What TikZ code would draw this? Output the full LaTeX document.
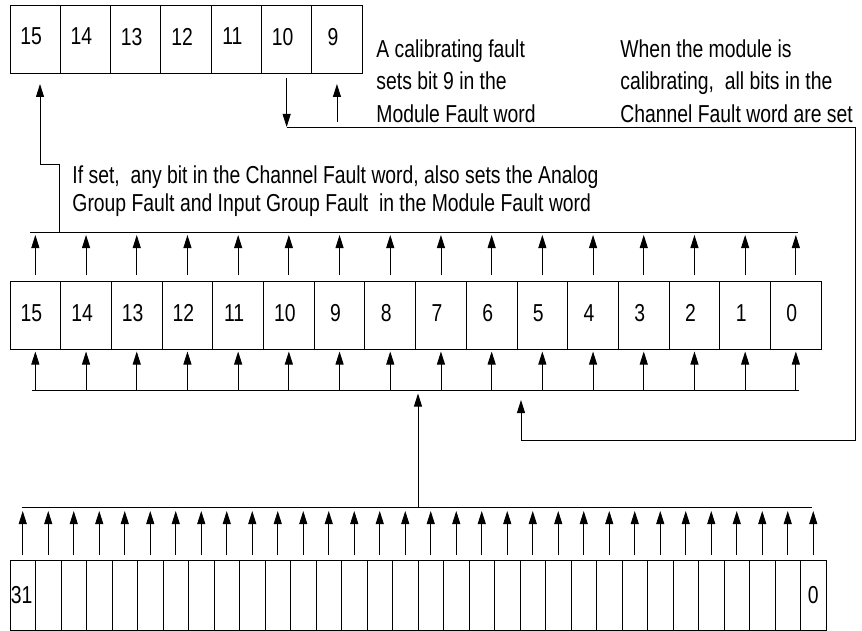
\documentclass[tikz,border=0pt]{standalone}
\usepackage{fontspec}
\setmainfont{Liberation Sans}[FakeStretch=0.79]
\usetikzlibrary{arrows.meta,calc}
\newcommand\cellnum[1]{\raisebox{5pt}{#1}\hspace*{8pt}}
\begin{document}
\begin{tikzpicture}[x=1pt,y=-1pt,
  every node/.style={font=\fontsize{24.5}{32.5}\selectfont},
  every path/.style={line width=0.9pt},
  cellA/.style={draw, rectangle, minimum width=#1, minimum height=68pt, inner sep=0pt, outer sep=0pt, anchor=north west},
  cellB/.style={draw, rectangle, minimum width=25.5pt, minimum height=70pt, inner sep=0pt, outer sep=0pt, anchor=north west},
  arr/.style={-{Triangle[length=13pt,width=8pt]}},
  note/.style={anchor=north west, align=left, inner sep=0pt}
]
\useasboundingbox (0,0) rectangle (862,631);

% top register (Module Fault word, bits 15..9)
\foreach \n [count=\i from 0] in {15,14,13,12,11,10,9}
  \node[cellA=50.3pt] (t\n) at ({10+50.3*\i},5) {\cellnum{\n}};

% middle register (Channel Fault word)
\foreach \n [count=\i from 0] in {15,14,13,12,11,10,9,8,7,6,5,4,3,2,1,0}
  \node[cellA=50.7pt] (m\n) at ({10+50.7*\i},281.5) {\cellnum{\n}};

% bottom register (32 bits)
\foreach \i in {0,...,31}{
  \pgfmathtruncatemacro{\n}{31-\i}
  \node[cellB] (b\n) at ({10+25.5*\i},560) {};
}
\node (l31) at ([xshift=-1pt]b31.center) {31};
\node (l0) at (b0.center) {0};

% texts
\node[note] (txtA) at (376,39) {A calibrating fault\\sets bit 9 in the\\Module Fault word};
\node[note] (txtB) at (620,39) {When the module is\\calibrating,\ \ all bits in the\\Channel Fault word are set};
\node[note, font=\fontsize{24.5}{28.5}\selectfont] (txtC) at (72,165)
  {If set,\ \ any bit in the Channel Fault word, also sets the Analog\\Group Fault and Input Group Fault\ \ in the Module Fault word};

% buses of the middle register
\coordinate (uL) at (30,232);   \coordinate (uR) at (798,232);
\coordinate (tipU) at (0,235);
\coordinate (lL) at (32,390.7); \coordinate (lR) at (799,390.7);
\draw (uL) -- (uR);
\draw (lL) -- (lR);
\foreach \n in {15,14,13,12,11,10,9,8,7,6,5,4,3,2,1,0}{
  \draw[arr] ([yshift=7pt]m\n.north) -- (m\n.north |- tipU);
  \draw[arr] (m\n.south |- lL) -- ([yshift=-2pt]m\n.south);
}

% bus of the bottom register
\coordinate (bL) at (22,507); \coordinate (bR) at (812,507);
\coordinate (tipB) at (0,511);
\draw (bL) -- (bR);
\foreach \n in {0,...,31}
  \draw[arr] ([yshift=5pt]b\n.north) -- (b\n.north |- tipB);

% main arrow from the 32-bit word up to the channel word bus
\coordinate (yT) at (0,393.5);
\coordinate (mainS) at (b15.north west |- bL);
\coordinate (mainT) at (b15.north west |- yT);
\draw[arr] (mainS) -- (mainT);

% channel fault -> module fault bit 15
\coordinate (e0) at (59,232);
\coordinate (e1) at (59,164);
\coordinate (e2) at (40,164);
\coordinate (e3) at (40,84);
\draw[arr] (e0) -- (e1) -- (e2) -- (e3);

% bit 9 arrow
\coordinate (y122) at (0,122);
\coordinate (y84) at (0,84);
\coordinate (n9a) at (t9.south |- y122);
\coordinate (n9b) at (t9.south |- y84);
\draw[arr] (n9a) -- (n9b);

% calibrating: bit 10 -> all channel bits
\coordinate (y127) at (0,127);
\coordinate (r0) at ([yshift=-5pt]t10.south);
\coordinate (r1) at (t10.south |- y127);
\coordinate (r2) at (855,127);
\coordinate (r3) at (855,440);
\coordinate (r4) at (521,440);
\coordinate (r5) at (521,400);
\draw[arr] (r0) -- (r1);
\draw[arr] (r1) -- (r2) -- (r3) -- (r4) -- (r5);
\end{tikzpicture}
\end{document}
